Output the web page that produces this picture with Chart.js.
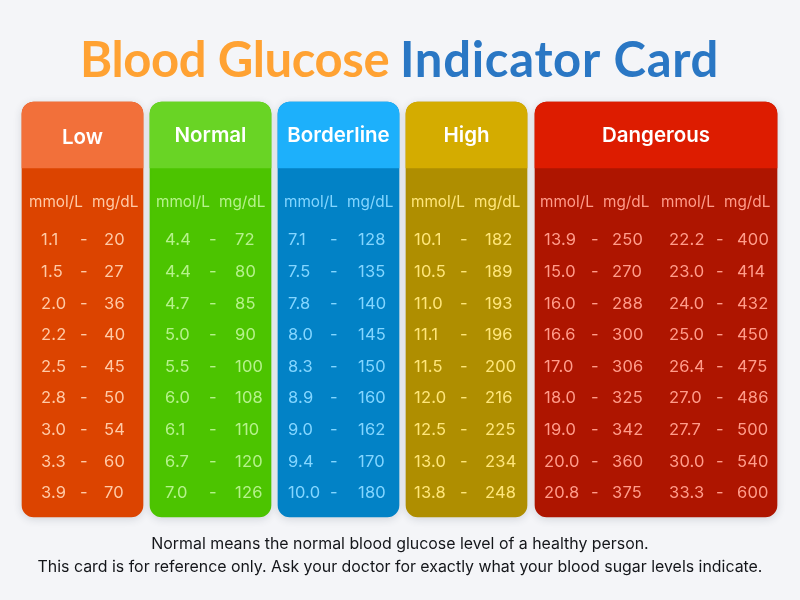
<!DOCTYPE html>
<html>
<head>
<meta charset="utf-8">
<title>Blood Glucose Indicator Card</title>
<script src="https://cdn.jsdelivr.net/npm/chart.js@4/dist/chart.umd.min.js"></script>
<style>
    html, body { margin: 0; padding: 0; background: #f4f5f8; }
    #wrap { width: 800px; height: 600px; }
</style>
</head>
<body>
<div id="wrap"><canvas id="card" width="800" height="600"></canvas></div>
<script>
const categories = ['Low', 'Normal', 'Borderline', 'High', 'Dangerous'];
const lowMmol = [1.1, 1.5, 2.0, 2.2, 2.5, 2.8, 3.0, 3.3, 3.9];
const lowMg = [20, 27, 36, 40, 45, 50, 54, 60, 70];
const normalMmol = [4.4, 4.4, 4.7, 5.0, 5.5, 6.0, 6.1, 6.7, 7.0];
const normalMg = [72, 80, 85, 90, 100, 108, 110, 120, 126];
const borderlineMmol = [7.1, 7.5, 7.8, 8.0, 8.3, 8.9, 9.0, 9.4, 10.0];
const borderlineMg = [128, 135, 140, 145, 150, 160, 162, 170, 180];
const highMmol = [10.1, 10.5, 11.0, 11.1, 11.5, 12.0, 12.5, 13.0, 13.8];
const highMg = [182, 189, 193, 196, 200, 216, 225, 234, 248];
const dangerMmol = [13.9, 15.0, 16.0, 16.6, 17.0, 18.0, 19.0, 20.0, 20.8];
const dangerMg = [250, 270, 288, 300, 306, 325, 342, 360, 375];
const danger2Mmol = [22.2, 23.0, 24.0, 25.0, 26.4, 27.0, 27.7, 30.0, 33.3];
const danger2Mg = [400, 414, 432, 450, 475, 486, 500, 540, 600];

const unitLabels = ['mmol/L', 'mg/dL'];
const titleParts = ['Blood Glucose', 'Indicator Card'];
const footerLines = [
    'Normal means the normal blood glucose level of a healthy person.',
    'This card is for reference only. Ask your doctor for exactly what your blood sugar levels indicate.'
];

// Layout, in axis units (the two axes run 0-800 and 0-600)
const cardTop = 102, headerBottom = 168, cardBottom = 517;
const rowFirst = 240.5, rowStep = 31.6, unitRow = 202;
const cards = [
    { left: 22, right: 143, head: '#f2703a', body: '#dc4400', ink: '#ffcaa6', headY: 138 },
    { left: 150, right: 271, head: '#69d425', body: '#4cc400', ink: '#b6f28c', headY: 136 },
    { left: 278, right: 399, head: '#1db0fb', body: '#0282c6', ink: '#84d6ff', headY: 136 },
    { left: 406, right: 527, head: '#d4ac00', body: '#af8e00', ink: '#ffe67a', headY: 136 },
    { left: 535, right: 777, head: '#dd1c00', body: '#ae1500', ink: '#ff9c8a', headY: 136 }
];
// one entry per mmol/mg column pair: left edges of unit, mmol and mg text, dash centre
const columns = [
    { card: 0, mmol: lowMmol, mg: lowMg, unitA: 29, unitB: 92, a: 41, dash: 84, b: 104 },
    { card: 1, mmol: normalMmol, mg: normalMg, unitA: 156, unitB: 219, a: 165, dash: 213, b: 235 },
    { card: 2, mmol: borderlineMmol, mg: borderlineMg, unitA: 284, unitB: 347, a: 288, dash: 334, b: 358 },
    { card: 3, mmol: highMmol, mg: highMg, unitA: 411, unitB: 474, a: 414, dash: 464, b: 485 },
    { card: 4, mmol: dangerMmol, mg: dangerMg, unitA: 540, unitB: 603, a: 544, dash: 595, b: 612 },
    { card: 4, mmol: danger2Mmol, mg: danger2Mg, unitA: 661, unitB: 724, a: 669, dash: 720, b: 737 }
];

const FONT = 'Inter, "Noto Sans", sans-serif';

function bar(card, top, bottom, color, radius, shadow, order) {
    return {
        type: 'bar',
        data: [{ x: (card.left + card.right) / 2, y: [top, bottom] }],
        backgroundColor: color,
        barThickness: card.right - card.left,
        borderRadius: radius,
        borderSkipped: false,
        grouped: false,
        cardShadow: shadow,
        order: order
    };
}

// Invisible points that carry the numbers; the text plugin writes at their pixels
function textColumn(values, x, ink, format) {
    return {
        type: 'scatter',
        data: values.map((v, i) => ({ x: x, y: rowFirst + i * rowStep })),
        texts: values.map(format),
        ink: ink,
        pointRadius: 0,
        order: 1
    };
}

const datasets = [];
cards.forEach(card => {
    // higher order is painted first, so the shadowed full card goes underneath
    datasets.push(bar(card, cardTop, cardBottom, card.body, 12, true, 3));
    datasets.push(bar(card, cardTop, headerBottom, card.head, { topLeft: 12, topRight: 12, bottomLeft: 0, bottomRight: 0 }, false, 2));
});
columns.forEach(col => {
    const ink = cards[col.card].ink;
    datasets.push(textColumn(col.mmol, col.a, ink, v => v.toFixed(1)));
    datasets.push(textColumn(col.mmol, col.dash, ink, () => '-'));
    datasets[datasets.length - 1].centred = true;
    datasets.push(textColumn(col.mg, col.b, ink, v => String(v)));
});

const cardPlugin = {
    id: 'cardPlugin',
    beforeDatasetDraw(chart, args) {
        const ds = chart.data.datasets[args.index];
        if (ds.cardShadow) {
            chart.ctx.save();
            chart.ctx.shadowColor = 'rgba(40, 50, 70, 0.16)';
            chart.ctx.shadowBlur = 8;
            chart.ctx.shadowOffsetY = 2;
        }
    },
    afterDatasetDraw(chart, args) {
        if (chart.data.datasets[args.index].cardShadow) chart.ctx.restore();
    },
    afterDraw(chart) {
        const { ctx, scales } = chart;
        const px = v => scales.x.getPixelForValue(v);
        const py = v => scales.y.getPixelForValue(v);
        ctx.save();
        ctx.textBaseline = 'middle';

        // numbers
        ctx.font = '16.5px ' + FONT;
        ctx.letterSpacing = '0.2px';
        chart.data.datasets.forEach((ds, i) => {
            if (!ds.texts) return;
            ctx.fillStyle = ds.ink;
            ctx.textAlign = ds.centred ? 'center' : 'left';
            chart.getDatasetMeta(i).data.forEach((pt, j) => {
                ctx.fillText(ds.texts[j], pt.x, pt.y);
            });
        });
        ctx.letterSpacing = '0px';

        // unit row
        ctx.font = '15.3px ' + FONT;
        ctx.textAlign = 'left';
        columns.forEach(col => {
            ctx.fillStyle = cards[col.card].ink;
            ctx.fillText(unitLabels[0], px(col.unitA), py(unitRow));
            ctx.fillText(unitLabels[1], px(col.unitB), py(unitRow));
        });

        // card headings
        ctx.font = '600 20.5px ' + FONT;
        ctx.textAlign = 'center';
        ctx.fillStyle = '#ffffff';
        categories.forEach((name, i) => {
            const c = cards[i];
            ctx.fillText(name, px((c.left + c.right) / 2), py(c.headY));
        });

        // title
        ctx.textBaseline = 'alphabetic';
        ctx.textAlign = 'left';
        ctx.font = '700 49px Lato, sans-serif';
        ctx.letterSpacing = '-0.4px';
        ctx.fillStyle = '#ffa233';
        ctx.fillText(titleParts[0], px(80), py(77));
        ctx.letterSpacing = '0.7px';
        ctx.fillStyle = '#2a77c4';
        ctx.fillText(titleParts[1], px(400), py(77));
        ctx.letterSpacing = '0px';

        // footer
        ctx.textBaseline = 'middle';
        ctx.textAlign = 'center';
        ctx.font = '15.9px ' + FONT;
        ctx.fillStyle = '#14161a';
        ctx.fillText(footerLines[0], px(400), py(544));
        ctx.fillText(footerLines[1], px(400), py(567));
        ctx.restore();
    }
};

new Chart(document.getElementById('card'), {
    type: 'bar',
    data: { datasets: datasets },
    plugins: [cardPlugin],
    options: {
        responsive: false,
        animation: false,
        layout: { padding: 0 },
        plugins: { legend: { display: false }, tooltip: { enabled: false } },
        scales: {
            x: { type: 'linear', min: 0, max: 800, offset: false, display: false },
            y: { type: 'linear', min: 0, max: 600, reverse: true, display: false }
        }
    }
});
</script>
</body>
</html>
